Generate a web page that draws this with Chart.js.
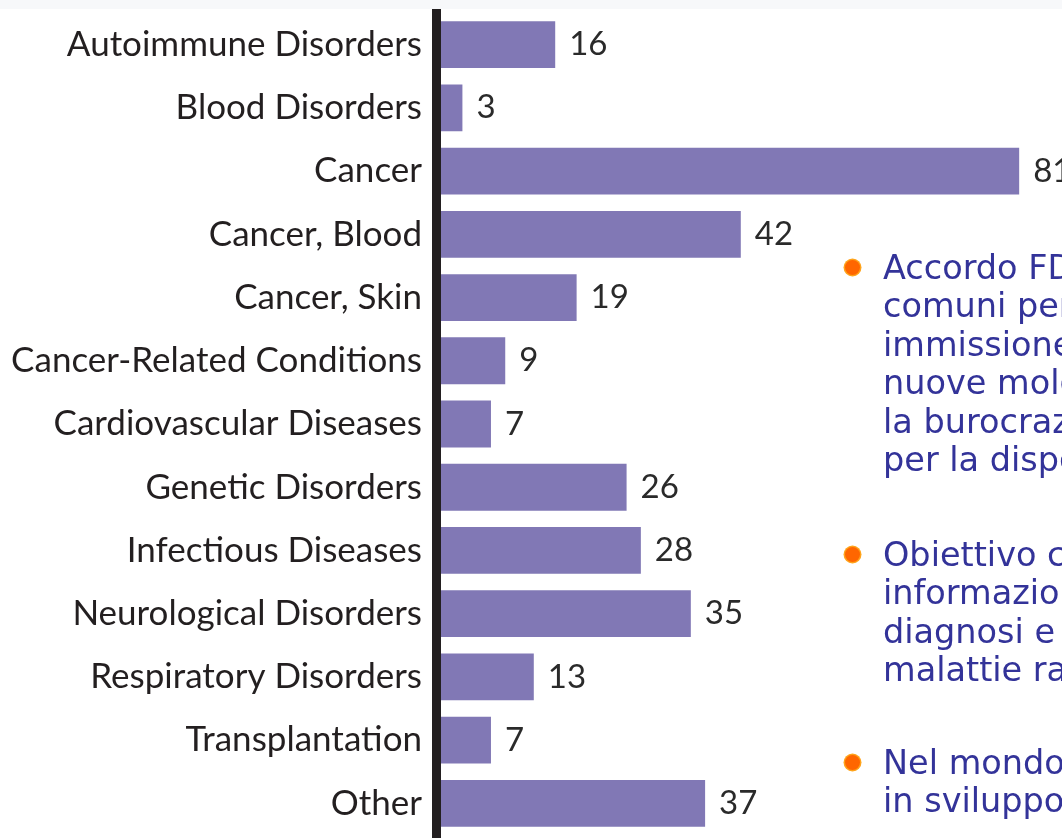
<!DOCTYPE html>
<html>
<head>
<meta charset="utf-8">
<script src="https://cdn.jsdelivr.net/npm/chart.js@4"></script>
<style>
  html, body { margin: 0; padding: 0; background: #fff; overflow: hidden; }
  #page { position: relative; width: 1062px; height: 838px; overflow: hidden; }
  #band { position: absolute; left: 0; top: 0; width: 1062px; height: 9px; background: #f7f8fa; }
  #wrap { position: absolute; left: 0; top: 0; width: 1062px; height: 838px; }
  .note {
    position: absolute; left: 883px; margin: 0;
    font-family: "DejaVu Sans", Verdana, sans-serif; font-size: 33.5px; line-height: 38.4px;
    color: #333399; white-space: nowrap;
  }
  .note::before {
    content: ""; position: absolute; left: -38px; top: 11px;
    width: 15px; height: 15px; border-radius: 50%;
    background: #ff6600; box-shadow: 0 0 0 1.5px #ffa31a;
  }
</style>
</head>
<body>
<div id="page">
  <div id="band"></div>
  <div id="wrap"><canvas id="myChart" width="1062" height="838"></canvas></div>

  <p class="note" style="top:249px">Accordo FDA-EMEA su procedure<br>comuni per la<br>immissione in commercio di<br>nuove molecole, per ridurre<br>la burocrazia e i tempi<br>per la disponibilità</p>
  <p class="note" style="top:536px">Obiettivo comune:<br>informazione,<br>diagnosi e cura delle<br>malattie rare</p>
  <p class="note" style="top:744px">Nel mondo<br>in sviluppo</p>
</div>

<script>
// categories and number of medicines in development
const categories = [
    'Autoimmune Disorders',
    'Blood Disorders',
    'Cancer',
    'Cancer, Blood',
    'Cancer, Skin',
    'Cancer-Related Conditions',
    'Cardiovascular Diseases',
    'Genetic Disorders',
    'Infectious Diseases',
    'Neurological Disorders',
    'Respiratory Disorders',
    'Transplantation',
    'Other'
];
const counts = [16, 3, 81, 42, 19, 9, 7, 26, 28, 35, 13, 7, 37];

// thick black axis line to the left of the bars
const axisLine = {
    id: 'axisLine',
    beforeDatasetsDraw(chart) {
        const ctx = chart.ctx;
        const area = chart.chartArea;
        ctx.save();
        ctx.fillStyle = '#231f20';
        ctx.fillRect(area.left - 9, 9, 9, chart.height - 9);
        ctx.restore();
    }
};

// value printed right after each bar
const valueLabels = {
    id: 'valueLabels',
    afterDatasetsDraw(chart) {
        const ctx = chart.ctx;
        const meta = chart.getDatasetMeta(0);
        ctx.save();
        ctx.font = '33px Lato';
        ctx.fillStyle = '#2a2a2a';
        ctx.textAlign = 'left';
        ctx.textBaseline = 'middle';
        meta.data.forEach(function(bar, i) {
            ctx.fillText(String(counts[i]), bar.x + 14, bar.y);
        });
        ctx.restore();
    }
};

function draw() {
    const ctx = document.getElementById('myChart').getContext('2d');
    window.myChart = new Chart(ctx, {
        type: 'bar',
        data: {
            labels: categories,
            datasets: [{
                data: counts,
                backgroundColor: '#8178b5',
                borderWidth: 0,
                barPercentage: 0.74,
                categoryPercentage: 1
            }]
        },
        options: {
            indexAxis: 'y',
            responsive: false,
            animation: false,
            devicePixelRatio: 1,
            layout: { padding: { top: 13, bottom: 3, left: 0, right: 0 } },
            plugins: {
                legend: { display: false },
                tooltip: { enabled: false }
            },
            scales: {
                x: {
                    display: false,
                    min: 0,
                    max: 87
                },
                y: {
                    grid: { display: false, drawTicks: false },
                    border: { display: false },
                    ticks: {
                        padding: 19,
                        color: '#231f20',
                        font: { family: 'Lato', size: 35 }
                    },
                    afterFit(scale) {
                        scale.width = 441;
                        // labels sit in the middle of each row, no extra room needed
                        scale.paddingTop = 0;
                        scale.paddingBottom = 0;
                    }
                }
            }
        },
        plugins: [axisLine, valueLabels]
    });
}

if (document.fonts && document.fonts.load) {
    Promise.all([document.fonts.load('35px Lato'), document.fonts.load('33px "DejaVu Sans"')])
        .then(draw, draw);
} else {
    draw();
}
</script>
</body>
</html>
